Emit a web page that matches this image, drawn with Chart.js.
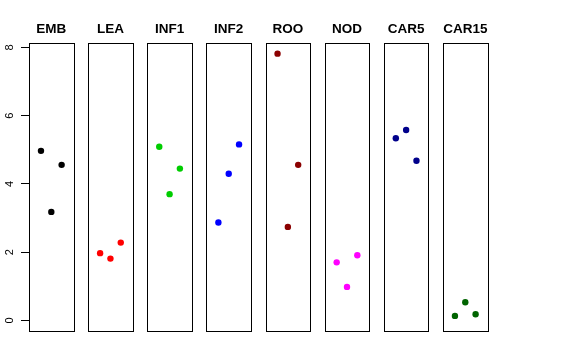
<!DOCTYPE html>
<html>
<head>
<meta charset="utf-8">
<script src="https://cdn.jsdelivr.net/npm/chart.js@4/dist/chart.umd.min.js"></script>
<style>
  body { margin: 0; background: #fff; }
  #wrap { position: relative; width: 576px; height: 360px; }
  #wrap canvas { position: absolute; left: 0; top: 0; }
</style>
</head>
<body>
<div id="wrap"></div>
<script>
// panel names and the three sample positions inside each panel
var groups = ['EMB', 'LEA', 'INF1', 'INF2', 'ROO', 'NOD', 'CAR5', 'CAR15'];
var xPos = [1, 2, 3];

// values
var valEMB   = [4.97, 3.18, 4.56];
var valLEA   = [1.97, 1.81, 2.28];
var valINF1  = [5.09, 3.70, 4.45];
var valINF2  = [2.87, 4.30, 5.16];
var valROO   = [7.82, 2.74, 4.56];
var valNOD   = [1.70, 0.98, 1.91];
var valCAR5  = [5.34, 5.58, 4.68];
var valCAR15 = [0.13, 0.53, 0.18];

var groupColors = ['#000000', '#ff0000', '#00cd00', '#0000ff', '#8b0000', '#ff00ff', '#00008b', '#006400'];
var yTicks = [0, 2, 4, 6, 8];

var allVals = [valEMB, valLEA, valINF1, valINF2, valROO, valNOD, valCAR5, valCAR15];

// layout of the panels (pixels)
var panelLeft0 = 29;
var panelPitch = 59.14;
var panelWidth = 44.6;
var plotBottomPad = 29;
var yMin = -0.313, yMax = 8.133;
var xMin = -0.16, xMax = 4.16;

var boxPlugin = {
  id: 'box',
  beforeDatasetsDraw: function (chart) {
    var a = chart.chartArea;
    var c = chart.ctx;
    c.save();
    c.strokeStyle = '#000';
    c.lineWidth = 1;
    c.strokeRect(Math.round(a.left) + 0.5, Math.round(a.top) + 0.5,
                 Math.round(a.right) - Math.round(a.left), Math.round(a.bottom) - Math.round(a.top));
    c.restore();
  }
};

function makePanel(i) {
  var cv = document.createElement('canvas');
  cv.width = 576;
  cv.height = 360;
  document.getElementById('wrap').appendChild(cv);

  var left = panelLeft0 + panelPitch * i;
  var pts = [];
  for (var k = 0; k < xPos.length; k++) {
    pts.push({ x: xPos[k], y: allVals[i][k] });
  }

  var yScale = { display: false, min: yMin, max: yMax };
  if (i == 0) {
    yScale = {
      display: true,
      min: yMin,
      max: yMax,
      afterFit: function (s) { s.width = panelLeft0; },
      afterBuildTicks: function (s) { s.ticks = yTicks.map(function (v) { return { value: v }; }); },
      grid: { drawOnChartArea: false, tickLength: 8, color: '#000', lineWidth: 1 },
      border: { display: false },
      ticks: {
        minRotation: 90,
        maxRotation: 90,
        crossAlign: 'center',
        padding: 8,
        color: '#000',
        font: { family: 'Liberation Sans', size: 11 }
      }
    };
  }

  new Chart(cv, {
    type: 'scatter',
    data: {
      datasets: [{
        data: pts,
        backgroundColor: groupColors[i],
        borderWidth: 0,
        pointRadius: 3.2
      }]
    },
    options: {
      responsive: false,
      animation: false,
      layout: {
        padding: {
          left: i == 0 ? 0 : left,
          right: 576 - left - panelWidth,
          top: 0,
          bottom: plotBottomPad
        }
      },
      plugins: {
        legend: { display: false },
        tooltip: { enabled: false },
        title: {
          display: true,
          text: groups[i],
          fullSize: false,
          color: '#000',
          font: { family: 'Liberation Sans', size: 13.5, weight: 'bold' },
          padding: { top: 21, bottom: 5.8 }
        }
      },
      scales: {
        x: { type: 'linear', display: false, min: xMin, max: xMax },
        y: yScale
      }
    },
    plugins: [boxPlugin]
  });
}

for (var i = 0; i < groups.length; i++) {
  makePanel(i);
}
</script>
</body>
</html>
